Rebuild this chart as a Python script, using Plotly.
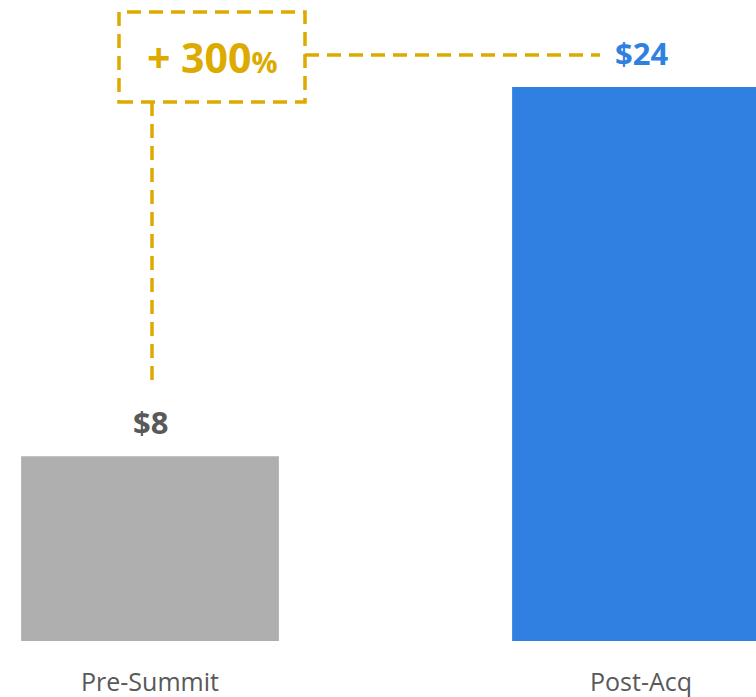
import plotly.graph_objects as go

# data
categories = ["Pre-Summit", "Post-Acq"]
values = [8, 24]
value_labels = ["$8", "$24"]
bar_colors = ["#AFAFAF", "#2F80E0"]
label_colors = ["#595959", "#2F80E0"]
change_text = "+ 300<span style='font-size:29px'>%</span>"

GOLD = "#DDAA00"
W, H = 756, 697
MB = 56
X_RANGE = [-0.3055, 1.2342]
Y_RANGE = [0, 27.77]


def px_x(p):
    # pixel -> category coordinate
    return X_RANGE[0] + p / W * (X_RANGE[1] - X_RANGE[0])


def px_y(p):
    # pixel (from top) -> value coordinate
    return Y_RANGE[1] - p / (H - MB) * (Y_RANGE[1] - Y_RANGE[0])


fig = go.Figure(go.Bar(
    x=[0, 1],
    y=values,
    width=0.525,
    marker=dict(color=bar_colors, line=dict(width=0)),
    hoverinfo="skip",
))

annotations = []
for i, (lab, col) in enumerate(zip(value_labels, label_colors)):
    annotations.append(dict(
        x=i, y=values[i], xref="x", yref="y", text=f"<b>{lab}</b>",
        showarrow=False, yanchor="middle", yshift=34,
        font=dict(family="Open Sans", size=31, color=col),
    ))
for i, cat in enumerate(categories):
    annotations.append(dict(
        x=i, y=0, xref="x", yref="paper", text=cat,
        showarrow=False, yanchor="middle", yshift=-40,
        font=dict(family="Open Sans", size=25, color="#595959"),
    ))

# callout box with the change
box_x0, box_x1 = px_x(119), px_x(305)
box_y0, box_y1 = px_y(102), px_y(12)
annotations.append(dict(
    x=(box_x0 + box_x1) / 2, y=(box_y0 + box_y1) / 2, xref="x", yref="y",
    text=f"<b>{change_text}</b>", showarrow=False,
    font=dict(family="Open Sans", size=41, color=GOLD),
))

dash_line = dict(color=GOLD, width=3.5, dash="14px,8px")
shapes = [
    dict(type="rect", xref="x", yref="y", x0=box_x0, x1=box_x1,
         y0=box_y0, y1=box_y1, line=dash_line),
    # vertical connector down to the first bar's label
    dict(type="line", xref="x", yref="y", x0=px_x(152), x1=px_x(152),
         y0=box_y0, y1=px_y(383), line=dash_line),
    # horizontal connector to the second bar's label
    dict(type="line", xref="x", yref="y", x0=box_x1, x1=px_x(600),
         y0=px_y(55), y1=px_y(55), line=dash_line),
]

fig.update_layout(
    width=W, height=H,
    margin=dict(l=0, r=0, t=0, b=MB),
    paper_bgcolor="white", plot_bgcolor="white",
    showlegend=False,
    xaxis=dict(range=X_RANGE, visible=False),
    yaxis=dict(range=Y_RANGE, visible=False),
    annotations=annotations,
    shapes=shapes,
)

fig.write_html(
    "out.html",
    config={"displayModeBar": False},
    post_script="document.body.style.margin='0';document.body.style.overflow='hidden';",
)
